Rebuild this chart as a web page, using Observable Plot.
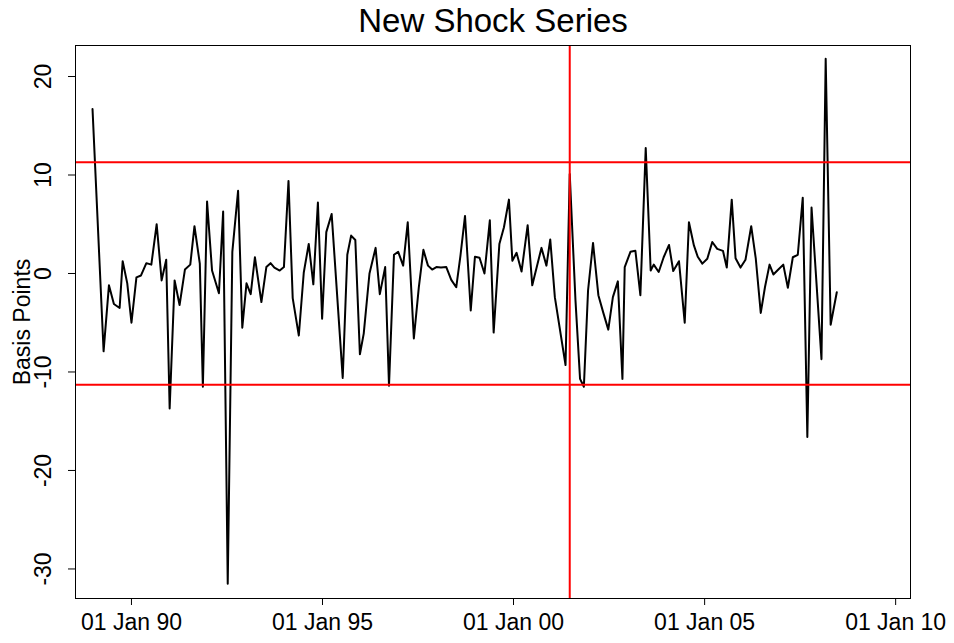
<!DOCTYPE html>
<html>
<head>
<meta charset="utf-8">
<script src="https://cdn.jsdelivr.net/npm/d3@7"></script>
<script src="https://cdn.jsdelivr.net/npm/@observablehq/plot@0.6"></script>
<style>
  html, body { margin: 0; padding: 0; background: #fff; }
  #chart svg { display: block; }
</style>
</head>
<body>
<div id="chart"></div>
<script>
// Dates of the shocks as decimal years
const decimalYears = [
  1988.98, 1989.27, 1989.41, 1989.54, 1989.69, 1989.77, 1989.89, 1990.00, 1990.13, 1990.25,
  1990.39, 1990.52, 1990.66, 1990.79, 1990.91, 1991.00, 1991.13, 1991.26, 1991.40, 1991.54,
  1991.65, 1991.79, 1991.87, 1991.98, 1992.11, 1992.29, 1992.40, 1992.52, 1992.64, 1992.79,
  1992.90, 1993.01, 1993.12, 1993.23, 1993.40, 1993.53, 1993.64, 1993.74, 1993.88, 1993.99,
  1994.11, 1994.22, 1994.38, 1994.51, 1994.64, 1994.76, 1994.88, 1994.99, 1995.10, 1995.24,
  1995.53, 1995.65, 1995.75, 1995.86, 1995.98, 1996.08, 1996.23, 1996.39, 1996.50, 1996.64,
  1996.74, 1996.87, 1996.98, 1997.11, 1997.23, 1997.39, 1997.52, 1997.64, 1997.76, 1997.87,
  1997.98, 1998.10, 1998.24, 1998.37, 1998.50, 1998.61, 1998.73, 1998.88, 1998.99, 1999.11,
  1999.24, 1999.38, 1999.48, 1999.63, 1999.75, 1999.88, 1999.97, 2000.08, 2000.21, 2000.37,
  2000.49, 2000.73, 2000.86, 2000.96, 2001.08, 2001.36, 2001.47, 2001.62, 2001.74, 2001.84,
  2001.95, 2002.08, 2002.22, 2002.35, 2002.48, 2002.60, 2002.73, 2002.85, 2002.91, 2003.06,
  2003.19, 2003.32, 2003.46, 2003.59, 2003.67, 2003.80, 2003.93, 2004.07, 2004.18, 2004.33,
  2004.48, 2004.59, 2004.72, 2004.82, 2004.94, 2005.07, 2005.20, 2005.33, 2005.48, 2005.58,
  2005.71, 2005.81, 2005.94, 2006.07, 2006.22, 2006.34, 2006.47, 2006.58, 2006.70, 2006.80,
  2006.93, 2007.06, 2007.18, 2007.31, 2007.44, 2007.57, 2007.69, 2007.80, 2008.06, 2008.17,
  2008.30, 2008.46
];

// Shock size in basis points
const shockValues = [
  16.7, -7.9, -1.2, -3.1, -3.5, 1.25, -1.0, -5.0, -0.4, -0.2,
  1.05, 0.9, 5.0, -0.7, 1.4, -13.7, -0.7, -3.2, 0.4, 0.9,
  4.8, 1.0, -11.5, 7.3, 0.3, -2.0, 6.3, -31.5, 2.2, 8.4,
  -5.5, -1.0, -2.1, 1.65, -2.9, 0.65, 1.05, 0.6, 0.3, 0.65,
  9.4, -2.5, -6.3, 0.1, 3.0, -1.1, 7.2, -4.6, 4.2, 6.05,
  -10.6, 1.9, 3.85, 3.4, -8.2, -6.1, 0.0, 2.6, -2.1, 0.65,
  -11.4, 1.9, 2.2, 0.8, 5.2, -6.6, -1.4, 2.4, 0.8, 0.4,
  0.65, 0.6, 0.65, -0.65, -1.4, 1.8, 5.85, -3.75, 1.7, 1.6,
  0.0, 5.4, -6.0, 3.0, 4.7, 7.5, 1.3, 2.1, 0.2, 4.9,
  -1.2, 2.6, 0.8, 3.45, -2.4, -9.3, 10.1, -2.7, -10.7, -11.5,
  -1.7, 3.1, -2.2, -4.0, -5.7, -2.4, -0.8, -10.7, 0.65, 2.2,
  2.3, -2.2, 12.75, 0.3, 0.9, 0.15, 1.65, 2.9, 0.25, 1.25,
  -5.0, 5.2, 2.85, 1.7, 1.0, 1.5, 3.2, 2.5, 2.3, 0.6,
  7.5, 1.55, 0.6, 1.4, 4.8, 1.5, -4.0, -1.4, 0.9, -0.1,
  0.4, 0.9, -1.45, 1.65, 1.9, 7.7, -16.6, 6.7, -8.7, 21.8,
  -5.2, -1.9
];

const yTicks = [-30, -20, -10, 0, 10, 20];
const xTickYears = [1990, 1995, 2000, 2005, 2010];
const thresholdLines = [11.3, -11.3];
const breakYears = [2001.47];
const xDomainDates = ["1988-07-15", "2010-05-23"];
const yDomain = [-33.0, 23.15];
const titleText = ["New Shock Series"];
const yLabelText = ["Basis Points"];

function toDate(t) {
  const y = Math.floor(t);
  const a = Date.UTC(y, 0, 1), b = Date.UTC(y + 1, 0, 1);
  return new Date(a + (t - y) * (b - a));
}

const data = decimalYears.map((t, i) => ({ date: toDate(t), value: shockValues[i] }));
const fmt = d3.utcFormat("%d %b %y");
const font = "'Liberation Sans', Arial, Helvetica, sans-serif";

const chart = Plot.plot({
  width: 954,
  height: 643,
  marginLeft: 75,
  marginRight: 44,
  marginTop: 45,
  marginBottom: 45,
  style: { fontFamily: font, fontSize: "23px", color: "#000", background: "#fff", overflow: "visible" },
  x: { type: "utc", domain: xDomainDates.map(s => new Date(s)) },
  y: { domain: yDomain },
  marks: [
    Plot.line(data, { x: "date", y: "value", stroke: "black", strokeWidth: 2, strokeLinejoin: "round" }),
    Plot.ruleY(thresholdLines, { stroke: "#ff0000", strokeWidth: 2 }),
    Plot.ruleX(breakYears.map(toDate), { stroke: "#ff0000", strokeWidth: 2 }),
    Plot.frame({ stroke: "black", strokeWidth: 1 }),
    Plot.axisX({
      ticks: xTickYears.map(y => new Date(Date.UTC(y, 0, 1))),
      tickFormat: fmt, tickSize: 7, tickPadding: 8, label: null, fontSize: 23
    }),
    Plot.axisY({ ticks: yTicks, tickSize: 7, tickFormat: () => "", label: null }),
    Plot.text(yTicks, {
      y: d => d, text: d => String(d), frameAnchor: "left", dx: -32,
      rotate: -90, textAnchor: "middle", lineAnchor: "middle", fontSize: 23
    }),
    Plot.text(yLabelText, {
      text: d => d, frameAnchor: "left", dx: -53, rotate: -90,
      textAnchor: "middle", lineAnchor: "middle", fontSize: 23
    }),
    Plot.text(titleText, {
      text: d => d, frameAnchor: "top", dy: -24, textAnchor: "middle",
      lineAnchor: "middle", fontSize: 33
    })
  ]
});

document.getElementById("chart").appendChild(chart);
</script>
</body>
</html>
